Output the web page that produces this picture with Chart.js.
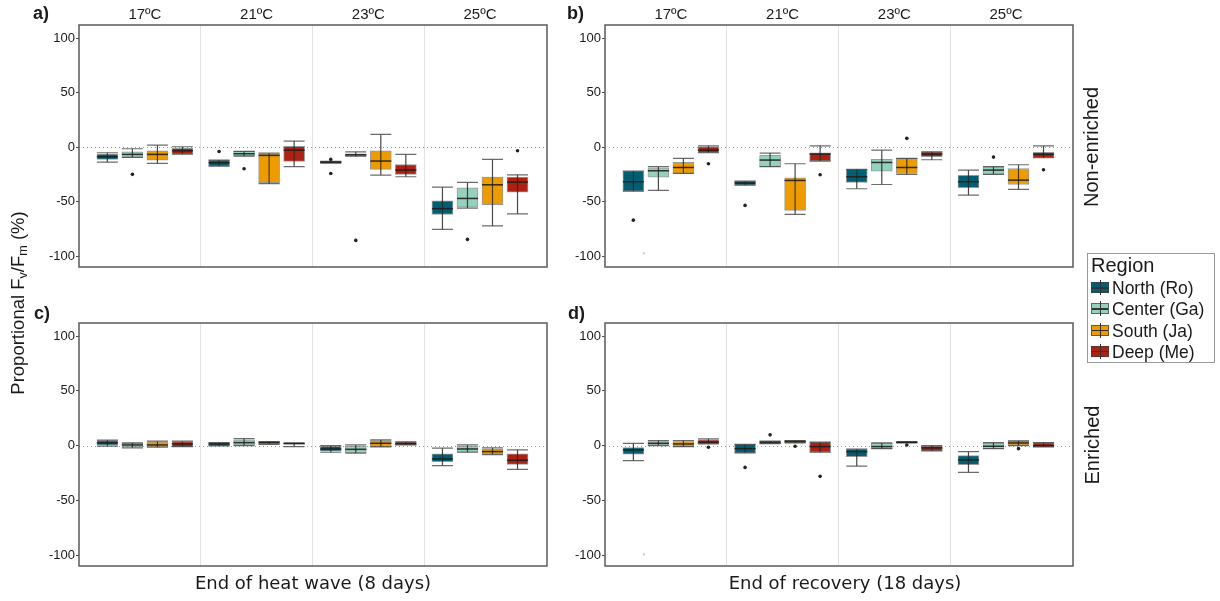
<!DOCTYPE html>
<html>
<head>
<meta charset="utf-8">
<script src="https://cdn.jsdelivr.net/npm/chart.js@4.4.0/dist/chart.umd.min.js"></script>
<style>
  body { margin: 0; background: #fff; width: 1220px; height: 601px; position: relative; overflow: hidden;
         font-family: "Liberation Sans", Arial, sans-serif; color: #1a1a1a; }
  canvas { position: absolute; }
  .tag { position: absolute; font-weight: bold; font-size: 18px; line-height: 20px; }
  .xtitle { position: absolute; width: 320px; text-align: center; font-family: "DejaVu Sans", Verdana, sans-serif;
            font-size: 18px; line-height: 22px; }
  .rot { position: absolute; text-align: center; transform: rotate(-90deg); white-space: nowrap; }
  .rot sub { font-size: 0.68em; vertical-align: -0.25em; }
  #legend { position: absolute; left: 1087px; top: 253px; width: 126px; height: 108px; border: 1px solid #999; }
  #legend .title { position: absolute; left: 3px; top: 0; font-size: 20px; line-height: 22px; }
  #legend .row { position: absolute; left: 0; height: 20px; font-size: 17.5px; line-height: 20px; }
  #legend .row span.txt { position: absolute; left: 24px; top: 0; white-space: nowrap; }
  .key { position: absolute; left: 3px; top: 4px; width: 18px; height: 11px; border: 1px solid rgba(60,60,60,0.7); box-sizing: border-box; }
  .key .wh { position: absolute; left: 8px; top: -3px; width: 1px; height: 15px; background: #333; }
  .key .md { position: absolute; left: 0; right: 0; top: 4px; height: 1.5px; background: #333; }
</style>
</head>
<body>
<canvas id="panelA" width="560" height="280" style="left:0;top:0"></canvas>
<canvas id="panelB" width="560" height="280" style="left:526px;top:0"></canvas>
<canvas id="panelC" width="560" height="280" style="left:0;top:300px"></canvas>
<canvas id="panelD" width="560" height="280" style="left:526px;top:300px"></canvas>

<div class="tag" style="left:33px;top:3px">a)</div>
<div class="tag" style="left:567px;top:3px">b)</div>
<div class="tag" style="left:34px;top:303px">c)</div>
<div class="tag" style="left:568px;top:303px">d)</div>

<div class="rot" style="left:-112px;top:291px;width:260px;height:24px;line-height:24px;font-size:18.5px">Proportional F<sub>v</sub>/F<sub>m</sub> (%)</div>
<div class="rot" style="left:1011px;top:135px;width:160px;height:24px;line-height:24px;font-size:20px">Non-enriched</div>
<div class="rot" style="left:1012px;top:433px;width:160px;height:24px;line-height:24px;font-size:20px">Enriched</div>

<div class="xtitle" style="left:153px;top:572px">End of heat wave (8 days)</div>
<div class="xtitle" style="left:685px;top:572px">End of recovery (18 days)</div>

<div id="legend"><div class="title">Region</div></div>

<script>
const regions = ['North (Ro)', 'Center (Ga)', 'South (Ja)', 'Deep (Me)'];
const regionColors = ['#005f73', '#94d2bd', '#ee9b00', '#ae2012'];
const temperatures = ['17ºC', '21ºC', '23ºC', '25ºC'];
const yTicks = [-100, -50, 0, 50, 100];

// box stats per region (rows) and temperature (columns): [min, q1, median, q3, max]
const heatNonEnriched = [
  [[-13.8, -11.3, -8.9, -6.4, -5.2], [-17.4, -17.4, -14.4, -11.9, -11.9], [-14.7, -14.7, -13.8, -13.1, -13.1], [-75.5, -61.8, -56.5, -49.2, -36.7]],
  [[-9.5, -9.5, -6.7, -4.3, -1.5], [-8.3, -8.3, -6.1, -4.0, -4.0], [-8.3, -8.3, -7.0, -6.1, -4.3], [-56.0, -55.0, -47.1, -37.3, -32.4]],
  [[-15.0, -11.9, -6.7, -3.4, 1.8], [-33.6, -32.7, -7.6, -6.1, -5.5], [-25.7, -20.5, -12.8, -3.4, 11.6], [-72.2, -52.9, -34.6, -27.5, -11.3]],
  [[-6.4, -6.4, -3.4, -1.2, 0.3], [-18.0, -13.1, -2.8, 0.6, 5.5], [-27.2, -25.0, -21.1, -16.0, -6.7], [-61.2, -41.3, -32.1, -27.5, -25.4]]
];
const recoveryNonEnriched = [
  [[-40.4, -40.4, -31.8, -22.0, -22.0], [-34.9, -34.9, -33.0, -31.2, -31.2], [-38.2, -32.4, -27.2, -20.5, -20.5], [-44.0, -37.3, -31.8, -26.0, -21.1]],
  [[-39.7, -27.5, -21.7, -19.0, -18.0], [-18.0, -18.0, -11.9, -7.6, -5.5], [-34.3, -22.0, -14.1, -11.3, -2.8], [-25.0, -25.0, -21.1, -18.0, -18.0]],
  [[-24.2, -24.2, -18.7, -14.0, -10.4], [-61.8, -58.1, -30.6, -28.1, -15.3], [-25.1, -24.2, -18.7, -10.4, -10.4], [-38.8, -34.3, -30.3, -19.6, -16.2]],
  [[-5.2, -5.2, -2.8, 0.3, 1.2], [-12.8, -12.8, -6.4, -5.2, 1.2], [-11.6, -8.9, -6.4, -4.3, -4.3], [-9.8, -9.8, -6.7, -4.9, 1.2]]
];
const heatEnriched = [
  [[-0.5, 0.5, 2.5, 4.5, 5.0], [-0.3, -0.3, 1.5, 2.7, 2.7], [-6.1, -5.2, -3.1, -0.6, 0.0], [-18.3, -14.7, -12.2, -7.6, -2.4]],
  [[-2.0, -1.2, 0.6, 2.4, 2.4], [0.0, 0.0, 2.7, 5.2, 6.4], [-7.0, -6.4, -3.4, 0.0, 0.6], [-6.1, -6.1, -3.1, 0.0, 0.6]],
  [[-1.5, -1.2, 0.6, 3.4, 4.0], [1.2, 1.2, 2.7, 3.7, 3.7], [-1.2, -0.9, 2.1, 4.6, 5.2], [-8.3, -7.9, -5.5, -3.4, -2.1]],
  [[-0.9, -0.9, 1.5, 3.7, 4.0], [-0.9, 1.5, 1.8, 2.4, 2.4], [0.6, 0.6, 1.8, 3.4, 3.4], [-21.7, -17.1, -13.4, -7.6, -4.0]]
];
const recoveryEnriched = [
  [[-13.8, -7.9, -4.0, -1.8, 2.1], [-6.7, -6.7, -2.8, 1.2, 1.2], [-18.7, -10.1, -5.5, -3.1, -3.1], [-24.5, -17.4, -13.1, -9.2, -5.5]],
  [[0.0, 0.0, 2.1, 3.7, 4.6], [1.8, 1.8, 3.0, 4.0, 4.0], [-2.8, -2.8, -0.9, 2.4, 2.4], [-2.8, -2.8, -0.6, 2.4, 2.8]],
  [[-0.9, -0.9, 1.5, 3.7, 4.6], [2.4, 2.4, 3.7, 4.6, 4.6], [2.4, 2.4, 3.0, 3.4, 3.7], [0.0, 0.0, 2.4, 4.3, 4.3]],
  [[1.5, 1.5, 3.1, 5.2, 6.1], [-6.1, -6.1, -0.9, 3.1, 3.1], [-4.9, -4.9, -2.1, 0.0, 0.0], [-1.2, -1.2, 0.0, 2.8, 2.8]]
];

// outliers: [region, temperature, value]
const heatNonEnrichedOutliers = [[1, 0, -25.0], [0, 1, -4.0], [1, 1, -19.9], [0, 2, -11.3], [0, 2, -24.2], [1, 2, -85.6], [1, 3, -84.7], [3, 3, -3.4]];
const recoveryNonEnrichedOutliers = [[0, 0, -67.0], [3, 0, -15.3], [0, 1, -53.5], [3, 1, -25.4], [2, 2, 8.0], [1, 3, -9.2], [3, 3, -20.8]];
const heatEnrichedOutliers = [];
const recoveryEnrichedOutliers = [[3, 0, -1.5], [0, 1, -19.9], [1, 1, 9.8], [2, 1, -0.6], [3, 1, -28.1], [2, 2, 0.5], [2, 3, -2.8]];

// faint points: [slot within temperature group, temperature, value]
const recoveryNonEnrichedFaint = [[0.42, 0, -97.5]];
const recoveryEnrichedFaint = [[0.42, 0, -99.4]];

const SLOT = 0.224;      // spacing between regions inside one temperature group
const BOX_PX = 21;
const boxX = (t, slot) => t + (slot - 1.5) * SLOT;

function boxDecor(boxes) {
  return {
    id: 'boxDecor',
    beforeDatasetsDraw(chart) {
      const { ctx, chartArea: a, scales: { y } } = chart;
      const y0 = Math.round(y.getPixelForValue(0)) + 0.5;
      ctx.save();
      ctx.strokeStyle = '#9a9a9a';
      ctx.lineWidth = 1;
      ctx.setLineDash([1, 3]);
      ctx.beginPath();
      ctx.moveTo(a.left, y0);
      ctx.lineTo(a.right, y0);
      ctx.stroke();
      ctx.restore();
    },
    afterDatasetsDraw(chart) {
      const { ctx, scales: { x, y } } = chart;
      const half = BOX_PX / 2;
      ctx.save();
      boxes.forEach((row, r) => row.forEach((b, t) => {
        const cx = x.getPixelForValue(boxX(t, r));
        const yMin = y.getPixelForValue(b[0]);
        const yMed = y.getPixelForValue(b[2]);
        const yMax = y.getPixelForValue(b[4]);
        // whisker with caps
        ctx.strokeStyle = 'rgba(40,40,40,0.85)';
        ctx.lineWidth = 1.2;
        ctx.beginPath();
        ctx.moveTo(cx, yMax); ctx.lineTo(cx, yMin);
        ctx.stroke();
        ctx.strokeStyle = 'rgba(70,70,70,0.8)';
        ctx.beginPath();
        ctx.moveTo(cx - half, yMax); ctx.lineTo(cx + half, yMax);
        ctx.moveTo(cx - half, yMin); ctx.lineTo(cx + half, yMin);
        ctx.stroke();
        // median
        ctx.strokeStyle = 'rgba(30,30,30,0.9)';
        ctx.lineWidth = 1.5;
        ctx.beginPath();
        ctx.moveTo(cx - half, yMed); ctx.lineTo(cx + half, yMed);
        ctx.stroke();
      }));
      ctx.restore();
    },
    afterDraw(chart) {
      const { ctx, chartArea: a } = chart;
      ctx.save();
      ctx.strokeStyle = '#5a5a5a';
      ctx.lineWidth = 1.5;
      ctx.strokeRect(a.left, a.top, a.right - a.left, a.bottom - a.top);
      ctx.restore();
    }
  };
}

function buildPanel(id, boxes, outliers, faint, showTemps, topHeight, bottomPad) {
  const datasets = regions.map((name, r) => ({
    type: 'bar',
    label: name,
    data: boxes[r].map((b, t) => ({ x: boxX(t, r), y: [b[1], b[3]] })),
    backgroundColor: regionColors[r],
    borderColor: 'rgba(70,70,70,0.55)',
    borderWidth: 1,
    borderSkipped: false,
    barThickness: BOX_PX,
    grouped: false
  }));
  datasets.push({
    type: 'scatter',
    label: 'outliers',
    data: outliers.map(([r, t, v]) => ({ x: boxX(t, r), y: v })),
    pointRadius: 1.8,
    pointBackgroundColor: '#222',
    pointBorderWidth: 0,
    order: -1
  });
  datasets.push({
    type: 'scatter',
    label: 'faint',
    data: faint.map(([s, t, v]) => ({ x: boxX(t, s), y: v })),
    pointRadius: 1.1,
    pointBackgroundColor: '#c4c4c4',
    pointBorderWidth: 0,
    order: -1
  });

  return new Chart(document.getElementById(id), {
    type: 'bar',
    data: { datasets },
    options: {
      responsive: false,
      animation: false,
      events: [],
      layout: { padding: { left: 0, right: 13, top: 0, bottom: bottomPad } },
      plugins: { legend: { display: false }, tooltip: { enabled: false } },
      scales: {
        x: {
          type: 'linear',
          position: 'top',
          min: -0.59,
          max: 3.6,
          offset: false,
          afterBuildTicks: s => { s.ticks = [0, 0.5, 1, 1.5, 2, 2.5, 3].map(v => ({ value: v })); },
          afterFit: s => { s.height = topHeight; },
          grid: {
            offset: false,
            drawTicks: false,
            lineWidth: 1,
            color: c => (c.tick && Number.isInteger(c.tick.value)) ? 'rgba(0,0,0,0)' : '#e2e2e2'
          },
          border: { display: false },
          ticks: {
            display: showTemps,
            autoSkip: false,
            maxRotation: 0,
            padding: 1,
            color: '#1a1a1a',
            font: { family: '"Liberation Sans", Arial, sans-serif', size: 15 },
            callback: v => Number.isInteger(v) ? temperatures[v] : ''
          }
        },
        y: {
          min: -110,
          max: 112,
          afterBuildTicks: s => { s.ticks = yTicks.map(v => ({ value: v })); },
          afterFit: s => { s.width = 79; },
          grid: { drawOnChartArea: false, drawTicks: true, tickLength: 3, color: '#4d4d4d' },
          border: { display: false },
          ticks: {
            padding: 1,
            color: '#1a1a1a',
            font: { family: '"Liberation Sans", Arial, sans-serif', size: 13 }
          }
        }
      }
    },
    plugins: [boxDecor(boxes)]
  });
}

buildPanel('panelA', heatNonEnriched, heatNonEnrichedOutliers, [], true, 25, 13);
buildPanel('panelB', recoveryNonEnriched, recoveryNonEnrichedOutliers, recoveryNonEnrichedFaint, true, 25, 13);
buildPanel('panelC', heatEnriched, heatEnrichedOutliers, [], false, 23, 14);
buildPanel('panelD', recoveryEnriched, recoveryEnrichedOutliers, recoveryEnrichedFaint, false, 23, 14);

// legend rows with small boxplot keys
const legend = document.getElementById('legend');
regions.forEach((name, r) => {
  const row = document.createElement('div');
  row.className = 'row';
  row.style.top = (24 + r * 21.3) + 'px';
  row.innerHTML = '<span class="key" style="background:' + regionColors[r] + '"><i class="wh"></i><i class="md"></i></span>' +
                  '<span class="txt">' + name + '</span>';
  legend.appendChild(row);
});
</script>
</body>
</html>
